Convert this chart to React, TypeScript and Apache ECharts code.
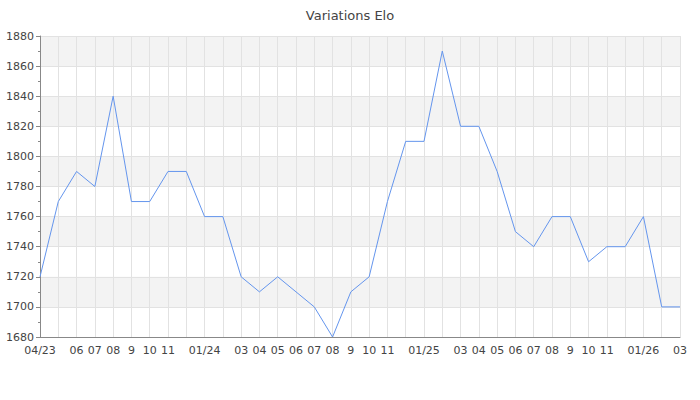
import React, { useEffect, useRef } from "react";
import * as echarts from "echarts";

const months = [
  "2023-04", "2023-05", "2023-06", "2023-07", "2023-08", "2023-09", "2023-10", "2023-11", "2023-12",
  "2024-01", "2024-02", "2024-03", "2024-04", "2024-05", "2024-06", "2024-07", "2024-08", "2024-09",
  "2024-10", "2024-11", "2024-12", "2025-01", "2025-02", "2025-03", "2025-04", "2025-05", "2025-06",
  "2025-07", "2025-08", "2025-09", "2025-10", "2025-11", "2025-12", "2026-01", "2026-02", "2026-03",
];

const tickLabels = [
  "04/23", "", "06", "07", "08", "9", "10", "11", "",
  "01/24", "", "03", "04", "05", "06", "07", "08", "9",
  "10", "11", "", "01/25", "", "03", "04", "05", "06",
  "07", "08", "9", "10", "11", "", "01/26", "", "03",
];

const elo = [
  1720, 1770, 1790, 1780, 1840, 1770, 1770, 1790, 1790,
  1760, 1760, 1720, 1710, 1720, 1710, 1700, 1680, 1710,
  1720, 1770, 1810, 1810, 1870, 1820, 1820, 1790, 1750,
  1740, 1760, 1760, 1730, 1740, 1740, 1760, 1700, 1700,
];

const FONT = "DejaVu Sans";

export default function App() {
  const ref = useRef<HTMLDivElement>(null);
  useEffect(() => {
    if (!ref.current) return;
    const chart = echarts.init(ref.current, undefined, { renderer: "svg" });
    chart.setOption({
      animation: false,
      title: {
        text: "Variations Elo",
        left: "center",
        top: 4,
        textStyle: { fontFamily: FONT, fontSize: 13, fontWeight: "normal", color: "#444" },
      },
      grid: { left: 40, right: 20, top: 36, bottom: 63, containLabel: false },
      xAxis: {
        type: "category",
        data: months,
        boundaryGap: false,
        axisLine: { lineStyle: { color: "#888" } },
        axisTick: { show: false },
        axisLabel: {
          interval: 0,
          fontFamily: FONT,
          fontSize: 11,
          color: "#444",
          margin: 8,
          formatter: (_v: string, i: number) => tickLabels[i],
        },
        splitLine: { show: true, lineStyle: { color: "#e2e2e2", width: 1 } },
      },
      yAxis: {
        type: "value",
        min: 1680,
        max: 1880,
        interval: 20,
        axisLine: { show: true, lineStyle: { color: "#888" } },
        axisTick: { show: true, length: 4, lineStyle: { color: "#888" } },
        minorTick: { show: true, splitNumber: 2, length: 2, lineStyle: { color: "#888" } },
        axisLabel: {
          fontFamily: FONT,
          fontSize: 11,
          color: "#444",
          margin: 6,
          formatter: (v: number) => String(v),
        },
        splitLine: { show: true, lineStyle: { color: "#e2e2e2", width: 1 } },
        splitArea: { show: true, areaStyle: { color: ["rgba(255,255,255,0)", "#f3f3f3"] } },
      },
      series: [
        {
          type: "line",
          data: elo,
          showSymbol: false,
          symbol: "none",
          lineStyle: { color: "#6495ed", width: 1 },
        },
      ],
    });
    return () => chart.dispose();
  }, []);
  return <div ref={ref} style={{ width: 700, height: 400, position: "absolute", left: 0, top: 0 }} />;
}
